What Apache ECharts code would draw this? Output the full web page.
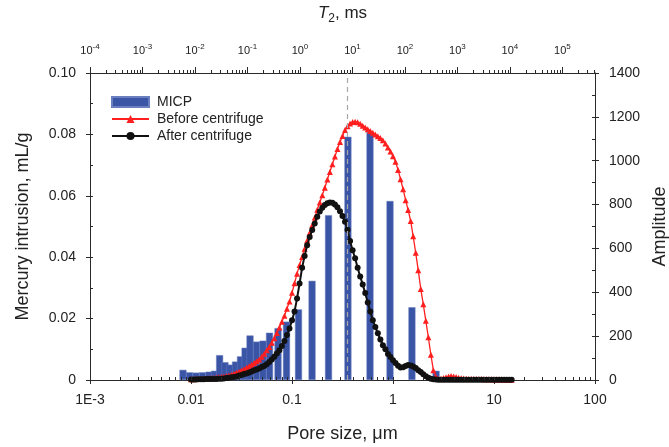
<!DOCTYPE html>
<html><head><meta charset="utf-8">
<script src="https://cdn.jsdelivr.net/npm/echarts@6/dist/echarts.min.js"></script>
<style>html,body{margin:0;padding:0;background:#fff}#c{width:669px;height:447px}</style>
</head><body><div id="c"></div>
<script>
const FONT = "'Liberation Sans', Arial, Helvetica, sans-serif";

// MICP histogram: pore size (µm) and mercury intrusion (mL/g)
const micpPoreSize = [0.00833,0.00966,0.0112,0.0130,0.0151,0.0171,0.0192,0.0217,0.0243,0.0276,
  0.0309,0.0343,0.0384,0.0445,0.0516,0.0599,0.0727,0.0882,0.116,0.158,0.230,0.358,0.592,0.934,1.54,2.67];
const micpVolume = [0.0033,0.0025,0.0024,0.0025,0.0027,0.0030,0.0081,0.0058,0.0050,0.0060,
  0.0077,0.0105,0.0145,0.0125,0.0128,0.0154,0.0169,0.0190,0.0230,0.0323,0.0537,0.0792,0.0808,0.0583,0.0237,0.0030];

// NMR curves: log10 of pore size (µm) and amplitude
const nmrLogPoreSize = [
-2.000,-1.975,-1.950,-1.925,-1.900,-1.875,-1.850,-1.825,-1.800,-1.775,
-1.750,-1.725,-1.700,-1.675,-1.650,-1.625,-1.600,-1.575,-1.550,-1.525,
-1.500,-1.475,-1.450,-1.425,-1.400,-1.375,-1.350,-1.325,-1.300,-1.275,
-1.250,-1.225,-1.200,-1.175,-1.150,-1.125,-1.100,-1.075,-1.050,-1.025,
-1.000,-0.975,-0.950,-0.925,-0.900,-0.875,-0.850,-0.825,-0.800,-0.775,
-0.750,-0.725,-0.700,-0.675,-0.650,-0.625,-0.600,-0.575,-0.550,-0.525,
-0.500,-0.475,-0.450,-0.425,-0.400,-0.375,-0.350,-0.325,-0.300,-0.275,
-0.250,-0.225,-0.200,-0.175,-0.150,-0.125,-0.100,-0.075,-0.050,-0.025,
0.000,0.025,0.050,0.075,0.100,0.125,0.150,0.175,0.200,0.225,
0.250,0.275,0.300,0.325,0.350,0.375,0.400,0.425,0.450,0.475,
0.500,0.525,0.550,0.575,0.600,0.625,0.650,0.675,0.700,0.725,
0.750,0.775,0.800,0.825,0.850,0.875,0.900,0.925,0.950,0.975,
1.000,1.025,1.050,1.075,1.100,1.125,1.150,1.175];
const beforeAmplitude = [
3,3,4,5,5,6,7,8,8,9,
11,12,14,16,18,21,24,28,33,38,
43,49,56,63,70,78,86,94,106,120,
136,151,170,190,214,239,266,293,325,358,
398,441,485,524,561,599,636,671,706,741,
776,809,843,877,914,949,984,1019,1053,1085,
1113,1140,1157,1170,1176,1178,1175,1168,1160,1152,
1144,1136,1128,1120,1112,1104,1093,1078,1060,1042,
1020,995,958,915,870,820,775,725,655,580,
500,415,345,270,195,115,45,15,6,6,
9,13,16,18,16,14,10,8,7,6,
5,5,5,4,4,4,3,3,3,3,
2,2,2,2,1,1,1,1];
const afterAmplitude = [
2,2,2,3,3,3,4,4,4,5,
5,6,6,7,9,10,12,14,16,20,
23,27,30,34,39,44,48,53,59,64,
72,82,94,106,121,136,155,178,205,235,
272,312,372,440,512,566,614,652,684,714,
745,768,785,798,806,810,808,800,788,770,
748,722,685,634,592,555,512,472,436,397,
353,312,273,242,213,185,158,140,119,105,
90,78,65,57,58,64,68,66,62,55,
45,36,26,17,10,6,3,2,1,1,
1,1,1,1,1,1,1,1,1,1,
1,1,1,1,1,1,1,1,1,1,
1,1,1,1,1,1,1,1];

// Axes
const bottomDecades = [-3,-2,-1,0,1,2];
const bottomTickLabels = ['1E-3','0.01','0.1','1','10','100'];
const topDecades = [-4,-3,-2,-1,0,1,2,3,4,5];
const topMax = 5.62;
const dashedPoreSize = 0.358;

function logTickPositions(first, last, max) {
  const out = [];
  for (let d = first; d <= last; d++) {
    for (let k = 1; k <= 9; k++) {
      const v = d + Math.log10(k);
      if (v <= max + 1e-9) out.push(v);
    }
  }
  return out;
}
const bottomTickPos = logTickPositions(-3, 2, 2);
const topMinorPos = logTickPositions(-4, 5, topMax).filter(v => Math.abs(v - Math.round(v)) > 1e-6);

const AX = '#2a2a2a';
const txt = '#222';
const chart = echarts.init(document.getElementById('c'), null, {renderer: 'canvas'});

const baseAxis = {
  splitLine: {show: false},
  axisLine: {onZero: false, lineStyle: {color: AX, width: 1}},
  axisTick: {lineStyle: {color: AX, width: 1}},
  axisLabel: {color: txt, fontFamily: FONT, fontSize: 14}
};
function ax(o) { return echarts.util.merge(echarts.util.clone(baseAxis), o, true); }

function tickSeries(name, xIdx, positions, yVal, len, dir) {
  return {
    name: name, type: 'custom', xAxisIndex: xIdx, yAxisIndex: 0, silent: true, clip: false, z: 5,
    data: positions.map(v => [v, yVal]),
    encode: {x: 0, y: 1},
    renderItem: function (params, api) {
      const p = api.coord([api.value(0), api.value(1)]);
      const x = Math.round(p[0]) + 0.5;
      return {type: 'line', shape: {x1: x, y1: p[1], x2: x, y2: p[1] + dir * len},
        style: {stroke: AX, lineWidth: 1}};
    }
  };
}

const option = {
  animation: false,
  backgroundColor: '#fff',
  textStyle: {fontFamily: FONT},
  grid: {left: 90, right: 74, top: 73, bottom: 67, containLabel: false, outerBoundsMode: 'none'},
  legend: {
    orient: 'vertical', left: 106, top: 90, itemWidth: 37, itemHeight: 10, itemGap: 3,
    textStyle: {fontFamily: FONT, fontSize: 14, color: txt, padding: [0, 0, 0, 3]},
    data: [{name: 'MICP', icon: 'rect'}, 'Before centrifuge', 'After centrifuge']
  },
  xAxis: [
    ax({type: 'value', position: 'bottom', min: -3, max: 2, interval: 1,
      name: 'Pore size, μm', nameLocation: 'middle', nameGap: 45,
      nameTextStyle: {fontFamily: FONT, fontSize: 18, color: txt},
      axisTick: {show: true, length: 4},
      axisLabel: {margin: 13,
        formatter: v => { const i = bottomDecades.indexOf(Math.round(v)); return i >= 0 ? bottomTickLabels[i] : ''; }}}),
    ax({type: 'value', position: 'top', min: -4, max: topMax, interval: 1,
      name: '{i|T}{s|2}{n|, ms}', nameLocation: 'middle', nameGap: 51,
      nameTextStyle: {fontFamily: FONT, fontSize: 17, color: txt,
        rich: {i: {fontFamily: FONT, fontSize: 17, fontStyle: 'italic', color: txt, lineHeight: 22, verticalAlign: 'bottom'},
               s: {fontFamily: FONT, fontSize: 12, color: txt, lineHeight: 22, verticalAlign: 'bottom', padding: [0, 0, -3, 0]},
               n: {fontFamily: FONT, fontSize: 17, color: txt, lineHeight: 22, verticalAlign: 'bottom'}}},
      axisTick: {show: true, length: 6},
      axisLabel: {margin: 17, showMaxLabel: false,
        formatter: v => Math.abs(v - Math.round(v)) < 1e-6 ? '{b|10}{s|' + Math.round(v) + '}' : '',
        rich: {b: {fontFamily: FONT, fontSize: 11, color: txt, verticalAlign: 'bottom', lineHeight: 13},
               s: {fontFamily: FONT, fontSize: 8, color: txt, verticalAlign: 'bottom', lineHeight: 9, padding: [0, 0, 5, 0]}}}})
  ],
  yAxis: [
    ax({type: 'value', position: 'left', min: 0, max: 0.1, interval: 0.02,
      name: 'Mercury intrusion, mL/g', nameLocation: 'middle', nameGap: 58,
      nameTextStyle: {fontFamily: FONT, fontSize: 18, color: txt},
      axisTick: {show: true, length: 4},
      axisLabel: {margin: 14, formatter: v => v === 0 ? '0' : v.toFixed(2)}}),
    ax({type: 'value', position: 'right', min: 0, max: 1400, interval: 200,
      name: 'Amplitude', nameLocation: 'middle', nameGap: 46,
      nameTextStyle: {fontFamily: FONT, fontSize: 18, color: txt},
      axisTick: {show: true, length: 4},
      axisLabel: {margin: 14, formatter: v => String(v)}}),
    ax({type: 'value', position: 'left', min: 0, max: 0.1, interval: 0.01,
      axisLine: {show: false}, axisLabel: {show: false},
      axisTick: {show: true, inside: true, length: 3}}),
    ax({type: 'value', position: 'right', min: 0, max: 1400, interval: 100,
      axisLine: {show: false}, axisLabel: {show: false},
      axisTick: {show: true, inside: true, length: 3}})
  ],
  series: [
    tickSeries('bottomTicks', 0, bottomTickPos, 0, 3, -1),
    tickSeries('topTicks', 1, topMinorPos, 0.1, 3, -1),
    {
      name: 'MICP', type: 'bar', xAxisIndex: 0, yAxisIndex: 0, barWidth: 7,
      itemStyle: {color: '#3A54A6', borderColor: '#6a7fc0', borderWidth: 0.5},
      data: micpPoreSize.map((d, i) => [Math.log10(d), micpVolume[i]]),
      markLine: {
        silent: true, symbol: 'none', label: {show: false},
        lineStyle: {color: '#a8a8a8', type: [5, 4], width: 1.2},
        data: [{xAxis: Math.log10(dashedPoreSize)}]
      },
      z: 2
    },
    {
      name: 'Before centrifuge', type: 'line', xAxisIndex: 0, yAxisIndex: 1,
      symbol: 'triangle', symbolSize: 6, showSymbol: true, showAllSymbol: true,
      itemStyle: {color: '#ff1f1f'}, lineStyle: {color: '#ff1f1f', width: 1.3},
      data: nmrLogPoreSize.map((x, i) => [x, beforeAmplitude[i]]),
      z: 3
    },
    {
      name: 'After centrifuge', type: 'line', xAxisIndex: 0, yAxisIndex: 1,
      symbol: 'circle', symbolSize: 6, showSymbol: true, showAllSymbol: true,
      itemStyle: {color: '#111'}, lineStyle: {color: '#111', width: 2},
      data: nmrLogPoreSize.map((x, i) => [x, afterAmplitude[i]]),
      z: 4
    }
  ]
};
chart.setOption(option);
</script>
</body></html>
